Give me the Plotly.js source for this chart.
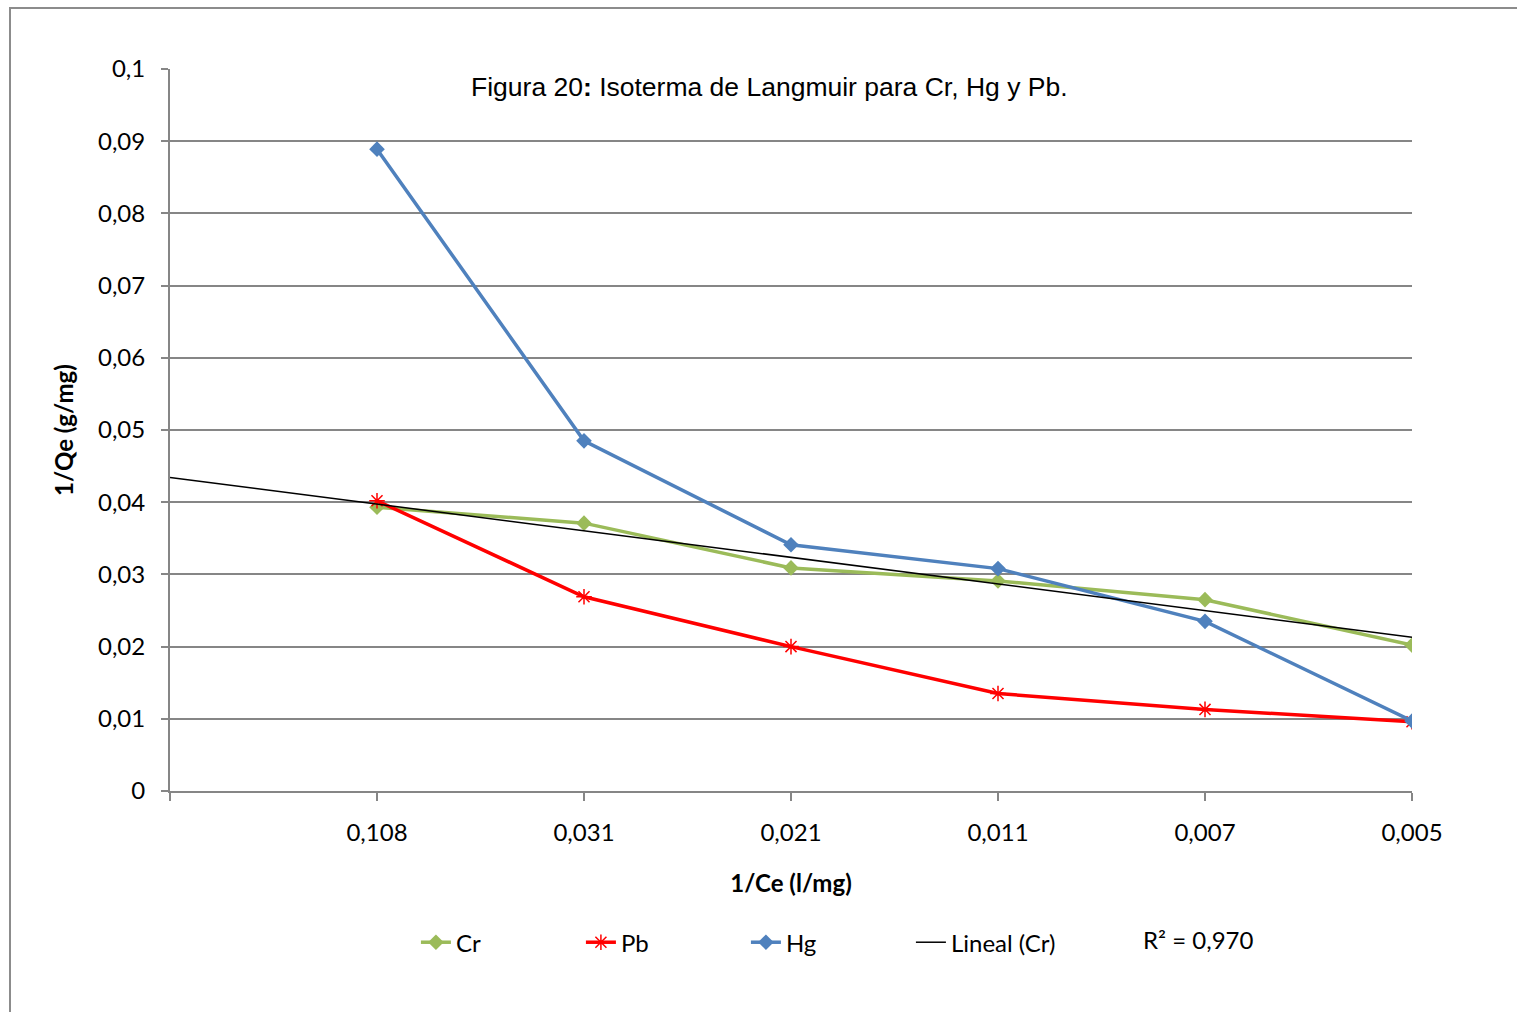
<!DOCTYPE html>
<html>
<head>
<meta charset="utf-8">
<script src="https://cdn.plot.ly/plotly-3.0.1.min.js"></script>
<style>
  html, body { margin: 0; padding: 0; background: #fff; }
  #frame { position: absolute; left: 9px; top: 7px; width: 1600px; height: 1100px; border: 2px solid #8c8c8c; box-sizing: border-box; }
  #chart { position: absolute; left: 0; top: 0; width: 1517px; height: 1012px; }
</style>
</head>
<body>
<div id="frame"></div>
<div id="chart"></div>
<script>
// Categories (1/Ce, l/mg)
const categories = ["0,108", "0,031", "0,021", "0,011", "0,007", "0,005"];
// 1/Qe (g/mg) series
const crValues = [0.0393, 0.0371, 0.0309, 0.0291, 0.0265, 0.0202];
const pbValues = [0.0402, 0.0269, 0.0200, 0.0135, 0.0113, 0.0096];
const hgValues = [0.0889, 0.0485, 0.0341, 0.0308, 0.0235, 0.0097];
// y tick labels
const yTickVals = [0, 0.01, 0.02, 0.03, 0.04, 0.05, 0.06, 0.07, 0.08, 0.09, 0.1];
const yTickText = ["0", "0,01", "0,02", "0,03", "0,04", "0,05", "0,06", "0,07", "0,08", "0,09", "0,1"];

const xPos = categories.map((c, i) => i + 1);

// Linear trend of Cr (least squares), extended back one period to 0
const n = crValues.length;
const mx = xPos.reduce((a, b) => a + b, 0) / n;
const my = crValues.reduce((a, b) => a + b, 0) / n;
let sxy = 0, sxx = 0;
for (let i = 0; i < n; i++) { sxy += (xPos[i] - mx) * (crValues[i] - my); sxx += (xPos[i] - mx) ** 2; }
const slope = sxy / sxx;
const intercept = my - slope * mx;
const trendX = [0, n];
const trendY = trendX.map(x => intercept + slope * x);

const lf = "Lato, 'Open Sans', sans-serif";
const fs = 24;

const traces = [
  { x: xPos, y: crValues, name: "Cr", type: "scatter", mode: "lines+markers",
    line: { color: "#9BBB59", width: 3.5 },
    marker: { symbol: "diamond", size: 12, color: "#9BBB59" } },
  { x: xPos, y: pbValues, name: "Pb", type: "scatter", mode: "lines+markers",
    line: { color: "#FF0000", width: 3.5 },
    marker: { symbol: "asterisk-open", size: 13, color: "#FF0000", line: { color: "#FF0000", width: 1.5 } } },
  { x: xPos, y: hgValues, name: "Hg", type: "scatter", mode: "lines+markers",
    line: { color: "#4F81BD", width: 3.5 },
    marker: { symbol: "diamond", size: 12, color: "#4F81BD" } },
  { x: trendX, y: trendY, name: "Lineal (Cr)", type: "scatter", mode: "lines",
    line: { color: "#000000", width: 1.5 } }
];

const layout = {
  width: 1517, height: 1012,
  margin: { l: 170, r: 105, t: 69, b: 221 },
  paper_bgcolor: "rgba(0,0,0,0)", plot_bgcolor: "rgba(0,0,0,0)",
  showlegend: true,
  font: { family: lf, size: fs, color: "#000" },
  xaxis: {
    range: [0, 6], tickvals: [0].concat(xPos), ticktext: [""].concat(categories),
    showgrid: false, zeroline: false, showline: true, linecolor: "#868686", linewidth: 2,
    ticks: "outside", ticklen: 8, tickcolor: "#868686", tickwidth: 2,
    ticklabelstandoff: 11,
    tickfont: { family: lf, size: fs },
    title: { text: "<b>1/Ce (l/mg)</b>", font: { family: lf, size: fs }, standoff: 30 },
    fixedrange: true
  },
  yaxis: {
    range: [0, 0.1], tickvals: yTickVals, ticktext: yTickText,
    showgrid: true, gridcolor: "#868686", gridwidth: 2,
    zeroline: false, showline: true, linecolor: "#868686", linewidth: 2,
    ticks: "outside", ticklen: 7, tickcolor: "#868686", tickwidth: 2,
    ticklabelstandoff: 11,
    tickfont: { family: lf, size: fs },
    title: { text: "<b>1/Qe (g/mg)</b>", font: { family: lf, size: fs }, standoff: 18 },
    fixedrange: true
  },
  legend: {
    orientation: "h", x: 0.198, xanchor: "left", y: -0.21, yanchor: "middle",
    font: { family: lf, size: fs }, entrywidth: 120, entrywidthmode: "pixels",
    bgcolor: "rgba(0,0,0,0)"
  },
  annotations: [
    { xref: "paper", yref: "paper", x: 0.483, y: 0.975, xanchor: "center", yanchor: "middle",
      text: "Figura 20<b>:</b> Isoterma de Langmuir para Cr, Hg y Pb.", showarrow: false,
      font: { family: "'Liberation Sans', Arial, sans-serif", size: 26.5, color: "#000" } },
    { xref: "paper", yref: "paper", x: (1141 - 170) / 1242, y: (791 - 940) / 722, xanchor: "left", yanchor: "middle",
      text: "R² = 0,970", showarrow: false, font: { family: lf, size: fs, color: "#000" } }
  ]
};

Plotly.newPlot("chart", traces, layout, { displayModeBar: false, staticPlot: true });
</script>
</body>
</html>
